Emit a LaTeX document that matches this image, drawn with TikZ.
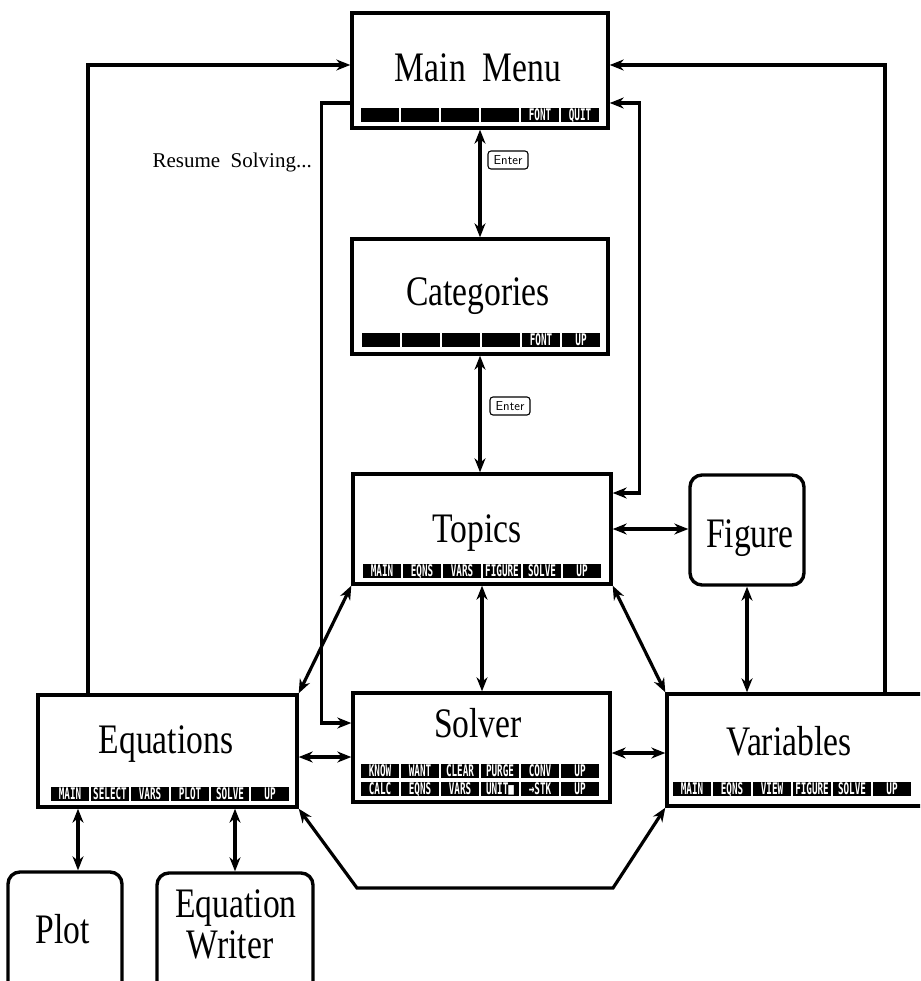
\documentclass[tikz,border=0pt]{standalone}
\usepackage{fontspec}
\usetikzlibrary{arrows.meta}
\newfontfamily\titlefont{Liberation Serif}[FakeStretch=0.8]
\newfontfamily\notefont{Liberation Serif}
\newfontfamily\keyfont{DejaVu Sans Mono}[FakeStretch=0.58]

\tikzset{
  screen/.style={draw, line width=3.4pt, inner sep=0pt},
  popup/.style={screen, rounded corners=12pt},
  title/.style={font=\titlefont\fontsize{42}{44}\selectfont, anchor=base, inner sep=0pt},
  softkey/.style={fill=black, text=white, minimum width=38pt, minimum height=14pt,
    inner sep=0pt, text height=11.5pt, text depth=0pt,
    font=\keyfont\bfseries\fontsize{16}{16}\selectfont},
  enterkey/.style={draw, line width=1.1pt, rounded corners=3pt, minimum width=40pt,
    minimum height=18pt, inner sep=1pt, font=\sffamily\fontsize{13}{13}\selectfont},
  link/.style={line width=3.2pt, -{Stealth[length=14pt,width=11pt]}},
  bilink/.style={line width=3.2pt, {Stealth[length=14pt,width=11pt]}-{Stealth[length=14pt,width=11pt]}},
}
% row of six menu keys: name, left x, centre y, labels
\newcommand{\keyrow}[4]{\foreach \k [count=\i] in {#4} \node[softkey] (#1\i) at ({#2+19+40*(\i-1)},#3) {\k};}

\begin{document}
\begin{tikzpicture}[x=1pt, y=-1pt]
  \clip[use as bounding box] (0,0) rectangle (920,981);

  % screens
  \node[screen, minimum width=256pt, minimum height=115pt] (main) at (480,70.5) {};
  \node[screen, minimum width=256pt, minimum height=115pt] (cat) at (480,296.5) {};
  \node[screen, minimum width=258pt, minimum height=110pt] (topics) at (482,529) {};
  \node[screen, minimum width=257pt, minimum height=109pt] (solver) at (481.5,747.5) {};
  \node[screen, minimum width=259pt, minimum height=112pt] (eqns) at (167.5,751) {};
  \node[screen, minimum width=268pt, minimum height=112pt] (vars) at (801,750) {};
  \node[popup, minimum width=114pt, minimum height=110pt] (figure) at (747,530) {};
  \node[popup, minimum width=114pt, minimum height=138pt] (plot) at (65,941) {};
  \node[popup, minimum width=156pt, minimum height=137pt] (writer) at (235,941.5) {};

  % titles
  \node[title] (main-t) at (478,82) {Main~~Menu};
  \node[title] (cat-t) at (478,305) {Categories};
  \node[title] (topics-t) at (477,542) {Topics};
  \node[title] (solver-t) at (478,737) {Solver};
  \node[title] (eqns-t) at (166,753) {Equations};
  \node[title] (vars-t) at (789,755) {Variables};
  \node[title] (figure-t) at (750,547) {Figure};
  \node[title] (plot-t) at (63,943) {Plot};
  \node[title] (writer-t1) at (236,917) {Equation};
  \node[title] (writer-t2) at (230,958) {Writer};

  % menu keys
  \keyrow{mk}{361}{115}{{},{},{},{},FONT,QUIT}
  \keyrow{ck}{362}{340}{{},{},{},{},FONT,UP}
  \keyrow{tk}{363}{571}{MAIN,EQNS,VARS,FIGURE,SOLVE,UP}
  \keyrow{sk}{361}{771}{KNOW,WANT,CLEAR,PURGE,CONV,UP}
  \keyrow{sl}{361}{789}{CALC,EQNS,VARS,UNIT■,→STK,UP}
  \keyrow{ek}{51}{794}{MAIN,SELECT,VARS,PLOT,SOLVE,UP}
  \keyrow{vk}{673}{789}{MAIN,EQNS,VIEW,FIGURE,SOLVE,UP}

  % keys and notes
  \node[enterkey] (enter1) at (508,160) {Enter};
  \node[enterkey] (enter2) at (510,406) {Enter};
  \node[anchor=base east, inner sep=0pt, font=\notefont\fontsize{21}{22}\selectfont] (resume) at (312,168) {Resume~~Solving...};

  % connector ends
  \coordinate (sv-w) at ([yshift=-9.5pt]solver.west);
  \coordinate (sv-e) at ([yshift=-5.5pt]solver.east);
  \coordinate (sv-w2) at ([yshift=24.5pt]solver.west);
  \coordinate (mm-w1) at ([yshift=5.5pt]main.west);
  \coordinate (mm-w2) at ([yshift=-32.5pt]main.west);
  \coordinate (mm-e1) at ([yshift=5.5pt]main.east);
  \coordinate (mm-e2) at ([yshift=-32.5pt]main.east);
  \coordinate (tp-e) at ([yshift=36pt]topics.east);
  \coordinate (eq-up) at ([xshift=-79.5pt]eqns.north);
  \coordinate (vr-up) at ([xshift=84pt]vars.north);
  \coordinate (pl-n) at ([xshift=13pt]plot.north);
  \coordinate (hex-l) at (357,888);
  \coordinate (hex-r) at (613,888);

  % connectors
  \draw[bilink] (main.south) -- (cat.north);
  \draw[bilink] (cat.south) -- (cat.south |- topics.north);
  \draw[bilink] (topics.south) -- (topics.south |- solver.north);
  \draw[bilink] (topics.east) -- (topics.east -| figure.west);
  \draw[bilink] (figure.south) -- (figure.south |- vars.north);
  \draw[bilink] (sv-w) -- (sv-w -| eqns.east);
  \draw[bilink] (sv-e) -- (sv-e -| vars.west);
  \draw[bilink] (topics.south west) -- (eqns.north east);
  \draw[bilink] (topics.south east) -- (vars.north west);
  \draw[bilink] (eqns.south east) -- (hex-l) -- (hex-r) -- (vars.south west);
  \draw[link] (eq-up) |- (mm-w1);
  \draw[link] (mm-w2) -| ([xshift=-30pt]sv-w2) -- (sv-w2);
  \draw[link] (vr-up) |- (mm-e1);
  \draw[bilink] (mm-e2) -| ([xshift=27pt]tp-e) -- (tp-e);
  \draw[bilink] (pl-n) -- (pl-n |- eqns.south);
  \draw[bilink] (writer.north) -- (writer.north |- eqns.south);
\end{tikzpicture}
\end{document}
